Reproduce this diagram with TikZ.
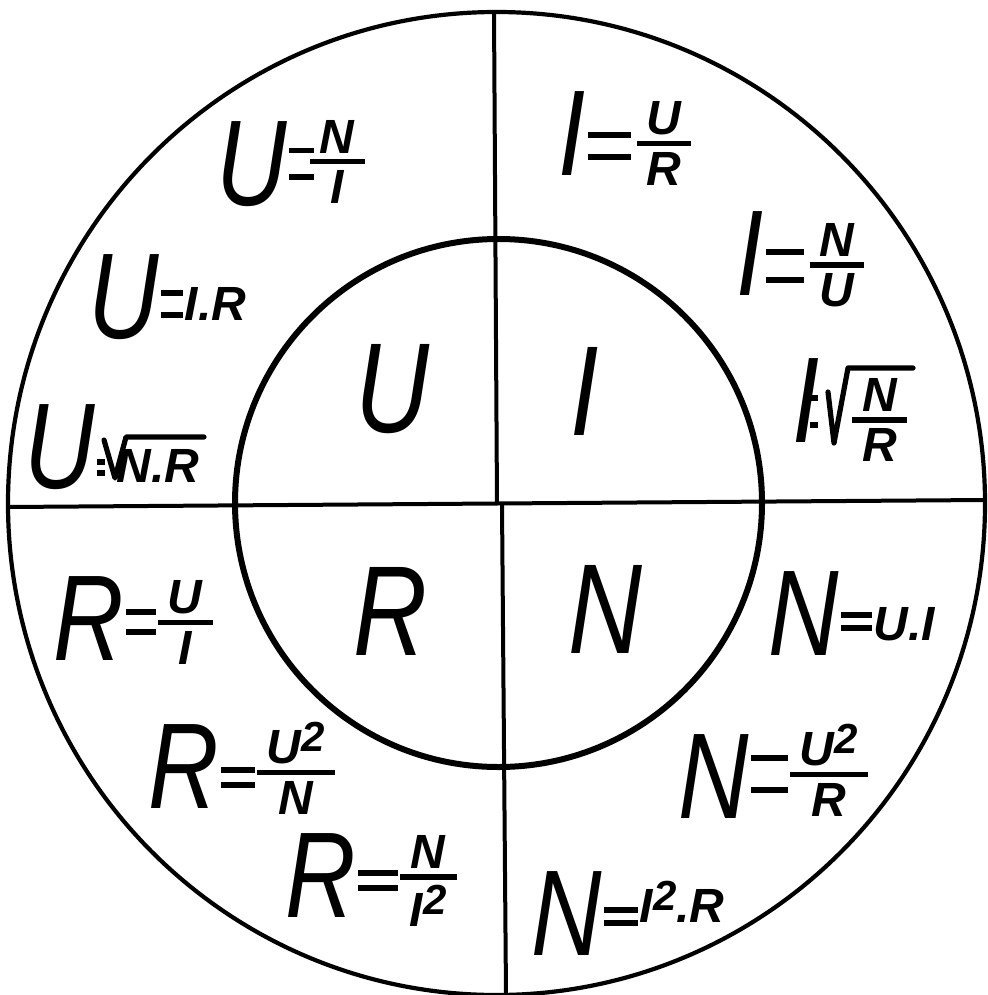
\documentclass[tikz,border=0pt]{standalone}
\usepackage{fontspec}
\setmainfont{Liberation Sans}
\usepackage{graphicx}
\usetikzlibrary{positioning}

\newcommand\lgf{\fontsize{61}{61}\selectfont\itshape}
\newcommand\cgf{\fontsize{64}{64}\selectfont\itshape}
\newcommand\smf{\fontsize{24}{24}\selectfont\bfseries\itshape}
\newcommand\ml[1]{{\lgf\scalebox{0.8}[1]{#1}}}
\newcommand\cl[1]{{\cgf\scalebox{0.8}[1]{#1}}}
\newcommand\eqs[3][16pt]{\kern1pt\rlap{\raisebox{#2}{\rule{#1}{2.6pt}}}\raisebox{#3}{\rule{#1}{2.6pt}}\kern1pt}
\newcommand\frc[3][23pt]{\raisebox{#1}{\smf\vtop{\halign{\hskip5pt\hfil##\hfil\hskip5pt\cr#2\cr\noalign{\kern3pt\hrule height2.6pt\kern3pt}#3\cr}}}}
\newcommand\sq{\raisebox{6pt}{\fontsize{21}{21}\selectfont\bfseries 2}}

\tikzset{
  ring/.style={line width=2.1pt},
  corering/.style={line width=3pt},
  axis/.style={line width=2pt},
  rad/.style={line width=2.6pt,line join=round,line cap=round},
  frm/.style={anchor=base west,inner sep=0pt},
  core/.style={anchor=base,inner sep=0pt}
}

\begin{document}
\begin{tikzpicture}[x=0.5pt,y=-0.5pt]
  \useasboundingbox (0,0) rectangle (987,995);
  % rings
  \draw[ring] (496.5,503.5) ellipse[x radius=244.25pt,y radius=245.75pt];
  \draw[corering] (498.5,503) ellipse[x radius=131.75pt,y radius=132pt];
  % axes
  \coordinate (n) at (494,12);
  \coordinate (c1) at (497,505);
  \coordinate (c2) at (502,505);
  \coordinate (s) at (506,995);
  \coordinate (w) at (8,507);
  \coordinate (e) at (985,500);
  \draw[axis] (n) -- (c1);
  \draw[axis] (c2) -- (s);
  \draw[axis] (w) -- (e);
  % centre letters
  \node[core] (cu) at (392,432) {\cl{U}};
  \node[core] (ci) at (585,435) {\cl{I}};
  \node[core] (cr) at (390,655) {\cl{R}};
  \node[core] (cn) at (605,653) {\cl{N}};
  % U
  \node[frm] (uni) at (216,205) {\ml{U}\eqs[12.5pt]{26pt}{12.7pt}\kern-3pt\frc[26pt]{N}{I}};
  \node[frm] (uir) at (88,338) {\ml{U}\eqs[11pt]{21.2pt}{10.2pt}\raisebox{9pt}{\smf I.R}};
  \node[frm] (unr) at (24,488) {\ml{U}\eqs[4pt]{11.7pt}{6.2pt}};
  \node[frm] (nr) at (116,482) {\smf N.R};
  \draw[rad] (104,440) -- (115,478) -- (126,437) -- (204,437);
  % I
  \node[frm] (iur) at (558,175) {\ml{I}\eqs[21.5pt]{18.7pt}{7.7pt}\kern2pt\frc[20.3pt]{U}{R}};
  \node[frm] (inu) at (736,295) {\ml{I}\eqs[19pt]{20.2pt}{6.2pt}\kern2pt\frc[19.3pt]{N}{U}};
  \node[frm] (irt) at (792,442) {\ml{I}\kern-6pt\eqs[4pt]{20.7pt}{7.2pt}};
  \node[frm] (nfr) at (852,442) {\frc[15.3pt]{N}{R}};
  \draw[rad] (828,392) -- (834,443) -- (848,368) -- (913,368);
  % R
  \node[frm] (rui) at (53,660) {\ml{R}\eqs[15pt]{22.7pt}{12.7pt}\frc[23.3pt]{U}{I}};
  \node[frm] (run) at (148,808) {\ml{R}\eqs[17pt]{17.7pt}{10.2pt}\frc[22.3pt]{U\sq}{N}};
  \node[frm] (rni) at (285,917) {\ml{R}\eqs[20pt]{20.7pt}{13.2pt}\frc[24.3pt]{N}{I\sq}};
  % N
  \node[frm] (nui) at (768,655) {\ml{N}\eqs[15.5pt]{18.7pt}{12.2pt}\raisebox{7.5pt}{\smf U.I}};
  \node[frm] (nur) at (678,818) {\ml{N}\eqs[18.5pt]{28.7pt}{12.7pt}\frc[26.3pt]{U\sq}{R}};
  \node[frm] (nir) at (531,955) {\ml{N}\eqs[17pt]{21.2pt}{14.7pt}\raisebox{16.5pt}{\smf I\sq.R}};
\end{tikzpicture}
\end{document}
